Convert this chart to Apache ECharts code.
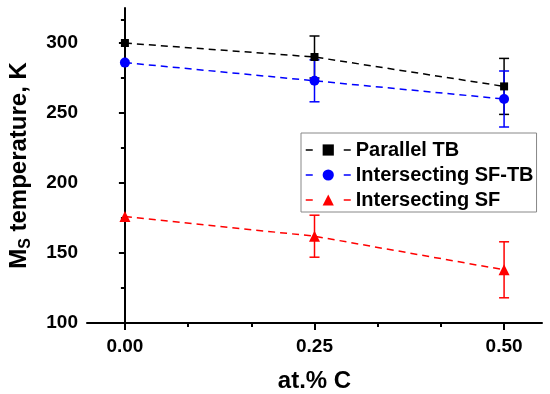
<!DOCTYPE html>
<html>
<head>
<meta charset="utf-8">
<script src="https://cdn.jsdelivr.net/npm/echarts@6/dist/echarts.min.js"></script>
<style>html,body{margin:0;padding:0;background:#fff;}#c{width:550px;height:394px;}</style>
</head>
<body>
<div id="c"></div>
<script>
const xValues = [0, 0.25, 0.5];
const xTickLabels = [0, 0.25, 0.5];
const xMinorTicks = [1/12, 2/12, 4/12, 5/12];
const yTickLabels = [100, 150, 200, 250, 300];
const yMinorTicks = [125, 175, 225, 275, 316.7];
const seriesNames = ['Parallel TB', 'Intersecting SF-TB', 'Intersecting SF'];
const parallelTB = [300, 290, 269];
const parallelTBErr = [0, 15, 20];
const sfTB = [286, 273, 260];
const sfTBErr = [0, 15, 20];
const sf = [176, 162, 138];
const sfErr = [0, 15, 20];

const FONT = 'Liberation Sans, Arial, sans-serif';
const chart = echarts.init(document.getElementById('c'), null, {renderer: 'canvas'});

function lineSeries(name, vals, color, symbol, size) {
  return {
    name: name, type: 'line', xAxisIndex: 0, yAxisIndex: 0,
    data: xValues.map((x, i) => [x, vals[i]]),
    symbol: symbol, symbolSize: size,
    itemStyle: {color: color},
    lineStyle: {color: color, width: 1.5, type: [7, 5]},
    emphasis: {disabled: true}, z: 3
  };
}
function errSeries(vals, errs, color) {
  return {
    type: 'custom', xAxisIndex: 0, yAxisIndex: 0, z: 2,
    data: xValues.map((x, i) => [x, vals[i] - errs[i], vals[i] + errs[i]]).filter((d, i) => errs[i] > 0),
    encode: {x: 0, y: [1, 2]},
    renderItem: function (params, api) {
      const lo = api.coord([api.value(0), api.value(1)]);
      const hi = api.coord([api.value(0), api.value(2)]);
      const hw = 5;
      const st = {stroke: color, lineWidth: 1.5};
      return {type: 'group', children: [
        {type: 'line', shape: {x1: lo[0], y1: lo[1], x2: hi[0], y2: hi[1]}, style: st},
        {type: 'line', shape: {x1: lo[0] - hw, y1: lo[1], x2: lo[0] + hw, y2: lo[1]}, style: st},
        {type: 'line', shape: {x1: hi[0] - hw, y1: hi[1], x2: hi[0] + hw, y2: hi[1]}, style: st}
      ]};
    },
    silent: true
  };
}

const axisLineStyle = {color: '#000', width: 2};
const option = {
  animation: false,
  backgroundColor: '#fff',
  grid: {left: 87, top: 8, width: 455, height: 315, containLabel: false, outerBoundsMode: 'none'},
  legend: {
    data: seriesNames,
    orient: 'vertical', left: 301, top: 133,
    width: 239,
    backgroundColor: '#fff', borderColor: '#888', borderWidth: 1,
    padding: [7, 3, 2, 4],
    itemWidth: 45, itemHeight: 14, itemGap: 5,
    lineStyle: {type: [7, 31], width: 1.5},
    textStyle: {fontFamily: FONT, fontSize: 20, fontWeight: 'bold', color: '#000', lineHeight: 20}
  },
  xAxis: [{
    type: 'value', min: -0.05, max: 0.55,
    name: 'at.% C', nameLocation: 'middle', nameGap: 46,
    nameTextStyle: {fontFamily: FONT, fontSize: 24, fontWeight: 'bold', color: '#000'},
    axisLine: {show: true, lineStyle: axisLineStyle},
    axisTick: {show: true, length: 7, lineStyle: {color: '#000', width: 2}, customValues: xTickLabels},
    axisLabel: {customValues: xTickLabels, formatter: v => v.toFixed(2), margin: 14,
      fontFamily: FONT, fontSize: 19, fontWeight: 'bold', color: '#000'},
    splitLine: {show: false}
  }, {
    type: 'value', min: -0.05, max: 0.55, position: 'bottom',
    axisLine: {show: false},
    axisTick: {show: true, length: 4, lineStyle: {color: '#000', width: 2}, customValues: xMinorTicks},
    axisLabel: {show: false}, splitLine: {show: false}
  }],
  yAxis: [{
    type: 'value', min: 100, max: 325,
    name: '{b|M}{s|S}{b| temperature, K}', nameLocation: 'middle', nameGap: 53, nameRotate: 90,
    nameTextStyle: {fontFamily: FONT, fontWeight: 'bold', color: '#000',
      rich: {
        b: {fontFamily: FONT, fontSize: 24, fontWeight: 'bold', color: '#000', lineHeight: 30},
        s: {fontFamily: FONT, fontSize: 16, fontWeight: 'bold', color: '#000', lineHeight: 20, verticalAlign: 'bottom'}
      }},
    axisLine: {show: true, lineStyle: axisLineStyle},
    axisTick: {show: true, length: 6, lineStyle: {color: '#000', width: 2}, customValues: yTickLabels},
    axisLabel: {customValues: yTickLabels, margin: 9,
      fontFamily: FONT, fontSize: 19, fontWeight: 'bold', color: '#000'},
    splitLine: {show: false}
  }, {
    type: 'value', min: 100, max: 325, position: 'left', offset: 0,
    axisLine: {show: false},
    axisTick: {show: true, length: 4, lineStyle: {color: '#000', width: 2}, customValues: yMinorTicks},
    axisLabel: {show: false}, splitLine: {show: false}
  }],
  series: [
    errSeries(parallelTB, parallelTBErr, '#000'),
    lineSeries(seriesNames[0], parallelTB, '#000', 'rect', 8),
    errSeries(sfTB, sfTBErr, '#0000ff'),
    lineSeries(seriesNames[1], sfTB, '#0000ff', 'circle', 10),
    errSeries(sf, sfErr, '#ff0000'),
    lineSeries(seriesNames[2], sf, '#ff0000', 'triangle', 11)
  ]
};
chart.setOption(option);
</script>
</body>
</html>
